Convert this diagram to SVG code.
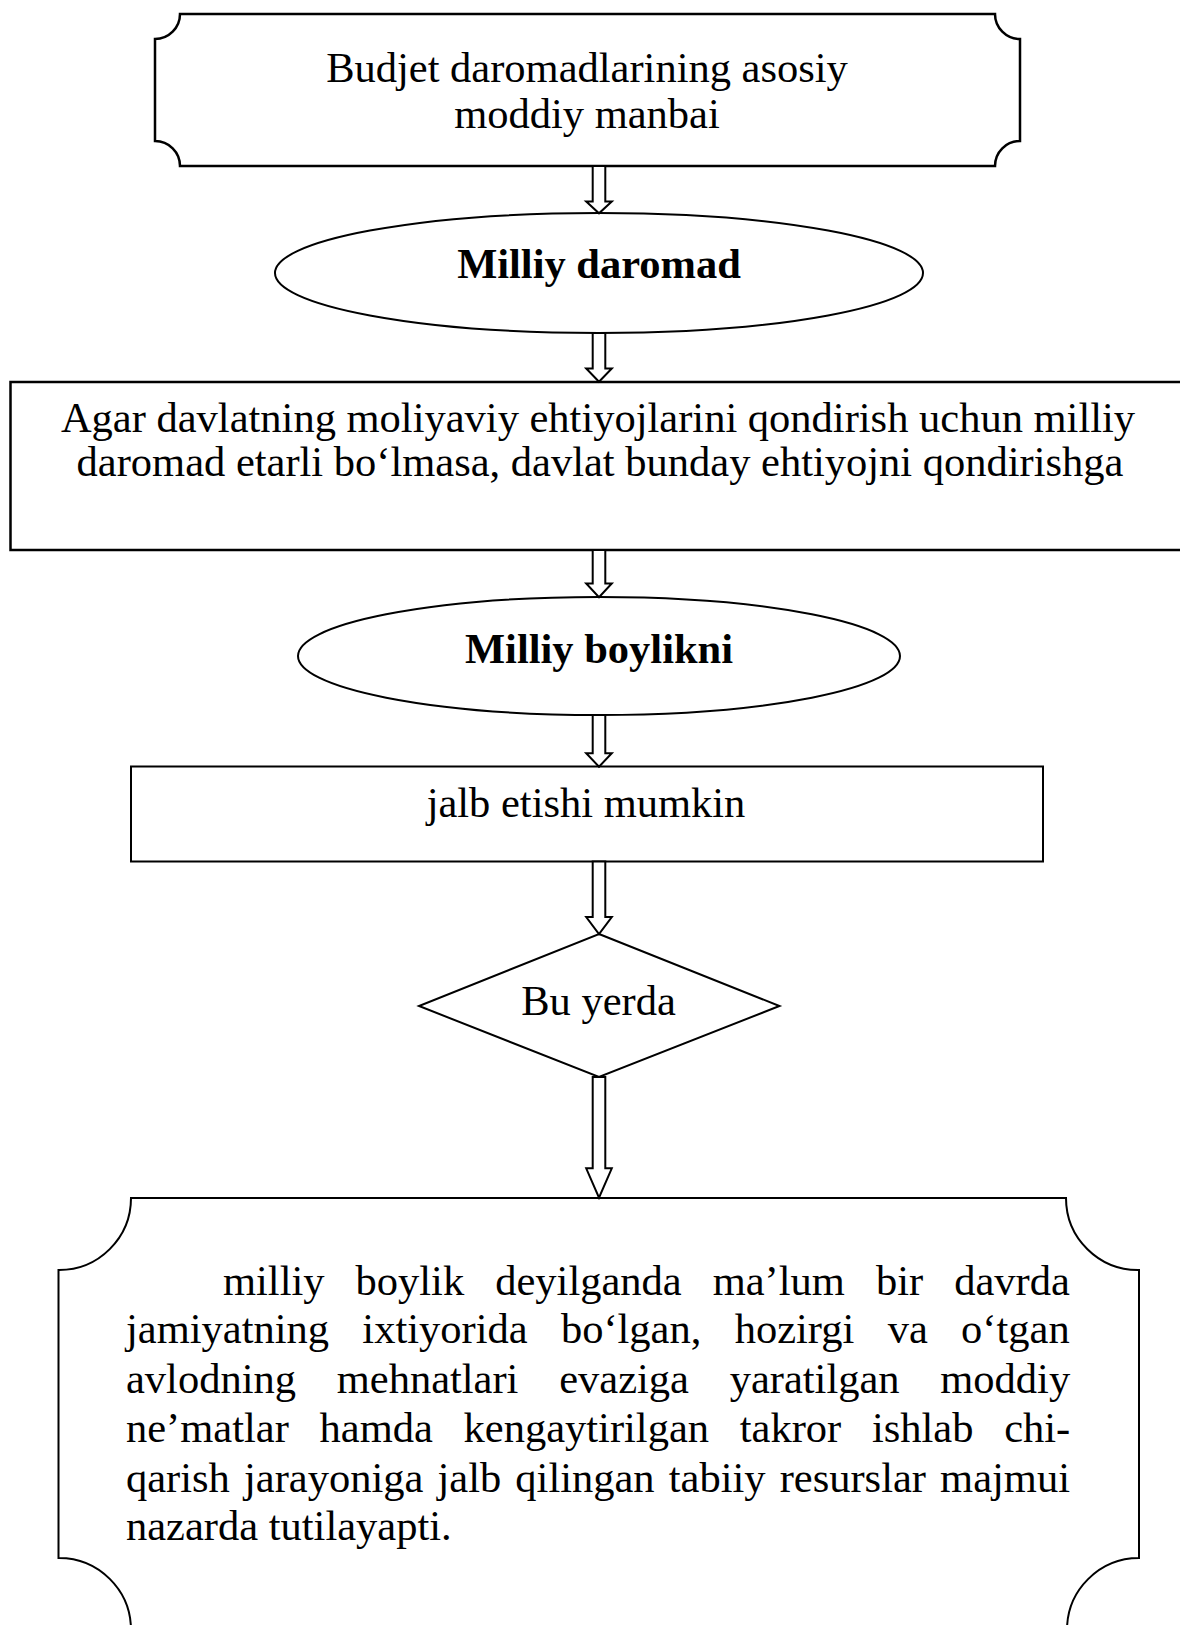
<svg xmlns="http://www.w3.org/2000/svg" width="1180" height="1625" viewBox="0 0 1180 1625">
<style>
.bg{fill:#ffffff}
.node{fill:#ffffff;stroke:#000000;stroke-width:2.5}
.thin{fill:#ffffff;stroke:#000000;stroke-width:2}
.arrow{fill:#ffffff;stroke:#000000;stroke-width:2;stroke-linejoin:miter}
.t{font-family:"Liberation Serif","Times New Roman",serif;font-size:42.5px;fill:#000000}
.c{text-anchor:middle}
.b{font-weight:bold}
</style>
<rect class="bg" x="0" y="0" width="1180" height="1625"/>
<g id="node-budjet">
<path class="node" d="M180,14 H995 A25,25 0 0 0 1020,39 V141 A25,25 0 0 0 995,166 H180 A25,25 0 0 0 155,141 V39 A25,25 0 0 0 180,14 Z"/>
<text class="t c" x="587" y="82">Budjet daromadlarining asosiy</text>
<text class="t c" x="587" y="128">moddiy manbai</text>
</g>
<g id="node-milliy-daromad">
<ellipse class="thin" cx="599" cy="273" rx="324" ry="60"/>
<text class="t c b" x="599" y="278">Milliy daromad</text>
</g>
<g id="node-agar">
<rect class="node" x="10.5" y="382" width="1172" height="168"/>
<text class="t c" x="598" y="432">Agar davlatning moliyaviy ehtiyojlarini qondirish uchun milliy</text>
<text class="t c" x="600" y="476">daromad etarli bo‘lmasa, davlat bunday ehtiyojni qondirishga</text>
</g>
<g id="node-milliy-boylikni">
<ellipse class="thin" cx="599" cy="656" rx="301" ry="59"/>
<text class="t c b" x="599" y="663">Milliy boylikni</text>
</g>
<g id="node-jalb">
<rect class="thin" x="131" y="766.5" width="912" height="95"/>
<text class="t c" x="586" y="817">jalb etishi mumkin</text>
</g>
<g id="node-bu-yerda">
<polygon class="thin" points="599,934 779.5,1006 599,1077 419,1006"/>
<text class="t c" x="598.5" y="1015">Bu yerda</text>
</g>
<g id="node-milliy-boylik">
<path class="thin" d="M131,1198 H1066 A72,72 0 0 0 1139,1270 V1558 A72,72 0 0 0 1067,1630 H131 A72,72 0 0 0 58.5,1558 V1270 A72,72 0 0 0 131,1198 Z"/>
<text class="t" x="223" y="1295" word-spacing="20.4">milliy boylik deyilganda ma’lum bir davrda</text>
<text class="t" x="126" y="1343" word-spacing="22.7">jamiyatning ixtiyorida bo‘lgan, hozirgi va o‘tgan</text>
<text class="t" x="126" y="1393" word-spacing="30.1">avlodning mehnatlari evaziga yaratilgan moddiy</text>
<text class="t" x="126" y="1442" word-spacing="20.1">ne’matlar hamda kengaytirilgan takror ishlab chi-</text>
<text class="t" x="126" y="1492" word-spacing="3.5">qarish jarayoniga jalb qilingan tabiiy resurslar majmui</text>
<text class="t" x="126" y="1540">nazarda tutilayapti.</text>
</g>
<g id="connectors">
<polygon class="arrow" points="592.7,166 605.3,166 605.3,201.5 611.8,201.5 599,213.3 586.2,201.5 592.7,201.5"/>
<polygon class="arrow" points="592.7,333 605.3,333 605.3,368.5 611.8,368.5 599,381.7 586.2,368.5 592.7,368.5"/>
<polygon class="arrow" points="592.7,550 605.3,550 605.3,583.5 611.8,583.5 599,597.3 586.2,583.5 592.7,583.5"/>
<polygon class="arrow" points="592.7,715 605.3,715 605.3,753.3 611.8,753.3 599,766.7 586.2,753.3 592.7,753.3"/>
<polygon class="arrow" points="592.7,861.5 605.3,861.5 605.3,917 611.8,917 599,934 586.2,917 592.7,917"/>
<polygon class="arrow" points="592.7,1077 605.3,1077 605.3,1168.3 611.8,1168.3 599,1197.7 586.2,1168.3 592.7,1168.3"/>
</g>
</svg>
